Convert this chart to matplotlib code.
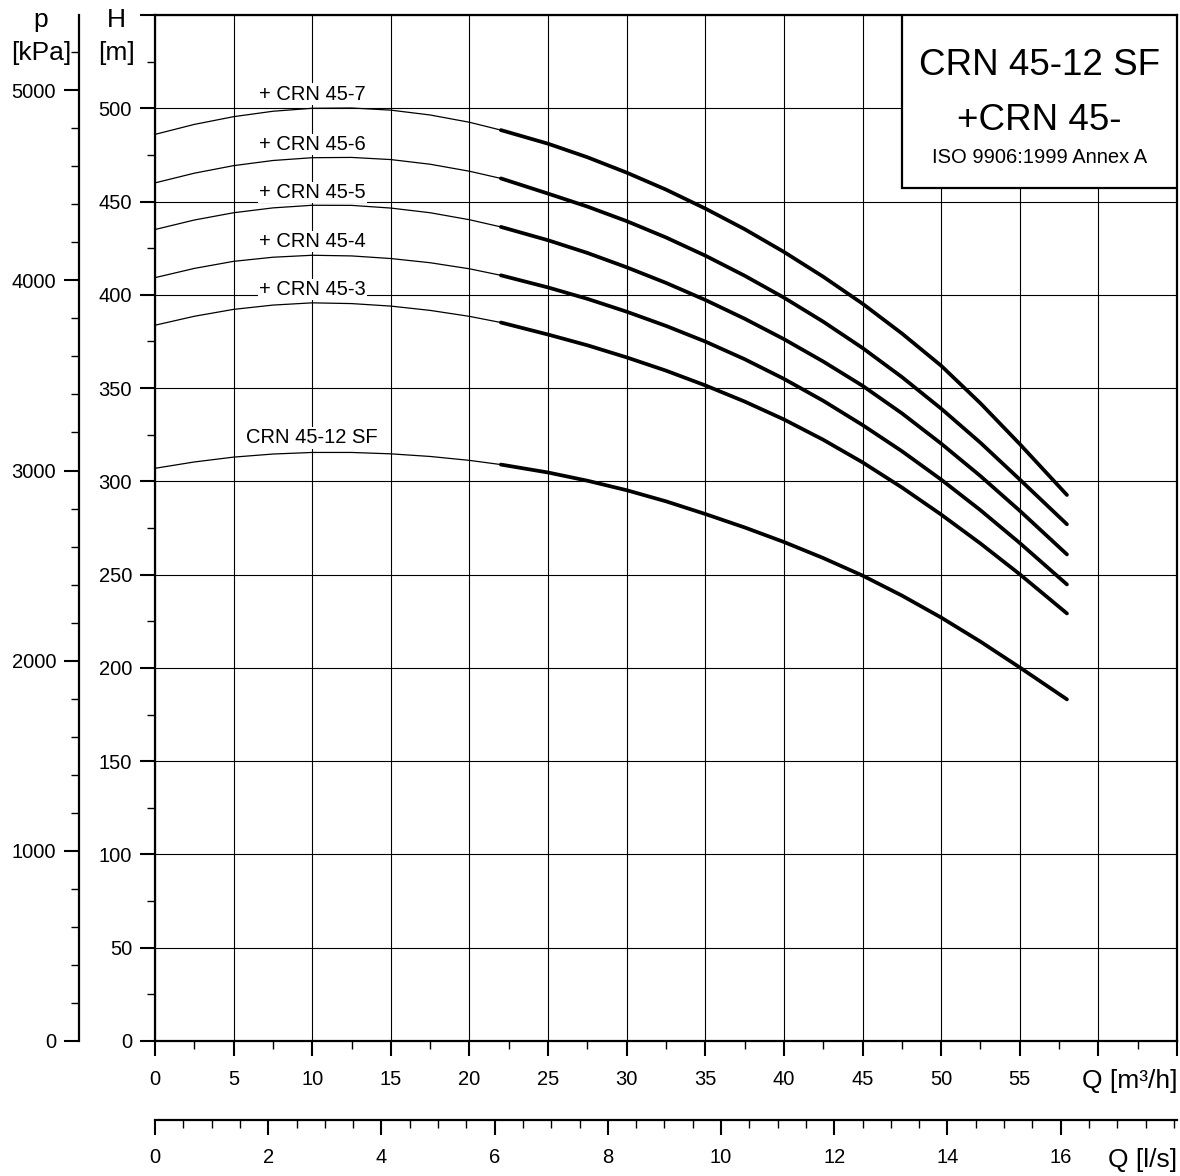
import matplotlib
matplotlib.use("Agg")
import matplotlib.pyplot as plt
from matplotlib.patches import Rectangle
import numpy as np

plt.rcParams['font.family'] = ['Liberation Sans', 'DejaVu Sans']

# flow points [m3/h]
Q = np.array([0, 2.5, 5, 7.5, 10, 12.5, 15, 17.5, 20, 22, 25, 27.5, 30, 32.5,
              35, 37.5, 40, 42.5, 45, 47.5, 50, 52.5, 55, 58])

# head [m] for each pump combination
H_sf = [307, 310.4, 313, 314.65, 315.5, 315.5, 314.75, 313.35, 311.25, 309.0, 304.75, 300.35,
        295.25, 289.3, 282.5, 275.3, 267.5, 258.9, 249.5, 238.8, 227, 214.1, 200.25, 183.15]
H_3 = [383.7, 388.5, 392.2, 394.5, 395.7, 395.3, 393.95, 391.65, 388.45, 385.15, 378.7, 372.95,
       366.45, 359.35, 351.45, 342.8, 333.2, 322.3, 310.2, 296.75, 282.2, 266.7, 250.2, 229.2]
H_4 = [409.2, 414.15, 417.95, 420.15, 421.2, 420.85, 419.45, 417.2, 413.95, 410.45, 403.95, 397.85,
       390.95, 383.35, 374.95, 365.5, 354.95, 343.2, 330.2, 316.2, 300.95, 284.55, 266.95, 244.75]
H_5 = [435, 440.1, 444, 446.6, 448, 447.95, 446.5, 444.0, 440.25, 436.4, 429.25, 422.45,
       414.75, 406.4, 397.25, 387.2, 376.25, 364.25, 351.25, 336.5, 320.25, 302.85, 284.25, 260.85]
H_6 = [460, 465.2, 469.25, 472.0, 473.5, 473.65, 472.5, 470.0, 466.25, 462.4, 454.25, 447.3,
       439.5, 430.75, 421, 410.25, 398.5, 385.6, 371.5, 355.95, 339, 320.7, 301, 277]
H_7 = [486, 491.35, 495.5, 498.4, 500, 500.15, 499, 496.4, 492.5, 488.3, 481, 473.75,
       465.5, 456.4, 446.25, 435.2, 423, 409.7, 395.25, 379.3, 362, 341.85, 320, 292.7]

names = ['CRN 45-12 SF', '+ CRN 45-3', '+ CRN 45-4', '+ CRN 45-5', '+ CRN 45-6', '+ CRN 45-7']
heads = [H_sf, H_3, H_4, H_5, H_6, H_7]

# where the curve labels sit (baseline, m) and the switch from thin to thick line
label_y = [320.3, 399.9, 425.8, 451.7, 477.5, 504.7]
label_q = 10
q_split = 22

KPA_PER_M = 9.81
LS_PER_M3H = 1 / 3.6

W, HT = 1180, 1176


def fx(px):
    return px / W


def fy(py):
    return 1 - py / HT


fig = plt.figure(figsize=(11.8, 11.76), dpi=100)
ax = fig.add_axes([fx(155), fy(1041), fx(1177) - fx(155), fy(15) - fy(1041)])
ax.set_xlim(0, 65)
ax.set_ylim(0, 550)
for s in ax.spines.values():
    s.set_linewidth(1.6)

xt = np.arange(0, 66, 5)
ax.set_xticks(xt)
ax.set_xticklabels([str(v) if v <= 55 else '' for v in xt])
ax.set_xticks(np.arange(0, 65.1, 2.5), minor=True)
yt = np.arange(0, 551, 50)
ax.set_yticks(yt)
ax.set_yticklabels([str(v) if v < 550 else '' for v in yt])
ax.set_yticks(np.arange(0, 551, 25), minor=True)
ax.tick_params(which='major', direction='out', length=11, width=1.5, labelsize=14.5)
ax.tick_params(which='minor', direction='out', length=5.5, width=1.0)
ax.tick_params(axis='x', which='major', pad=10)
ax.tick_params(axis='y', which='major', pad=5.5)

ax.set_axisbelow(True)
ax.grid(True, which='major', color='black', lw=0.8)

for name, h, ly in zip(names, heads, label_y):
    h = np.array(h)
    thin = Q <= q_split
    thick = Q >= q_split
    ax.plot(Q[thin], h[thin], color='black', lw=0.9, zorder=2)
    ax.plot(Q[thick], h[thick], color='black', lw=2.7, solid_capstyle='round',
            solid_joinstyle='round', zorder=2)
    ax.text(label_q, ly, name, ha='center', va='baseline', fontsize=14.5, zorder=3,
            bbox=dict(boxstyle='square,pad=0.05', fc='white', ec='none'))

# title box in the upper right corner
ax.add_patch(Rectangle((47.5, 457.2), 17.5, 92.8, fc='white', ec='black', lw=1.6, zorder=4))
ax.text(56.25, 517.9, 'CRN 45-12 SF', ha='center', va='baseline', fontsize=26.5, zorder=5)
ax.text(56.25, 488.6, '+CRN 45-', ha='center', va='baseline', fontsize=26.5, zorder=5)
ax.text(56.25, 470.7, 'ISO 9906:1999 Annex A', ha='center', va='baseline', fontsize=14.5, zorder=5)

# pressure axis
sec_p = ax.secondary_yaxis(-76 / 1022, functions=(lambda h: h * KPA_PER_M, lambda p: p / KPA_PER_M))
sec_p.set_yticks(np.arange(0, 5001, 1000))
sec_p.set_yticks(np.arange(0, 5300, 200), minor=True)
sec_p.tick_params(which='major', length=11, width=1.5, labelsize=14.5, pad=5.5)
sec_p.tick_params(which='minor', length=5.5, width=1.0)
sec_p.spines['left'].set_linewidth(1.6)

# flow in l/s
sec_q = ax.secondary_xaxis(-79 / 1026, functions=(lambda q: q * LS_PER_M3H, lambda l: l / LS_PER_M3H))
sec_q.set_xticks(np.arange(0, 17, 2))
sec_q.set_xticks(np.arange(0, 18.01, 0.5), minor=True)
sec_q.tick_params(which='major', length=11, width=1.5, labelsize=14.5, pad=9)
sec_q.tick_params(which='minor', length=5.5, width=1.0)
sec_q.spines['bottom'].set_linewidth(1.6)

fig.text(fx(1177), fy(1088), 'Q [m³/h]', ha='right', va='baseline', fontsize=19)
fig.text(fx(1177), fy(1167), 'Q [l/s]', ha='right', va='baseline', fontsize=19)
fig.text(fx(41), fy(27), 'p', ha='center', va='baseline', fontsize=19)
fig.text(fx(41), fy(60), '[kPa]', ha='center', va='baseline', fontsize=19)
fig.text(fx(116), fy(27), 'H', ha='center', va='baseline', fontsize=19)
fig.text(fx(116), fy(60), '[m]', ha='center', va='baseline', fontsize=19)

fig.savefig('out.png', dpi=100)
